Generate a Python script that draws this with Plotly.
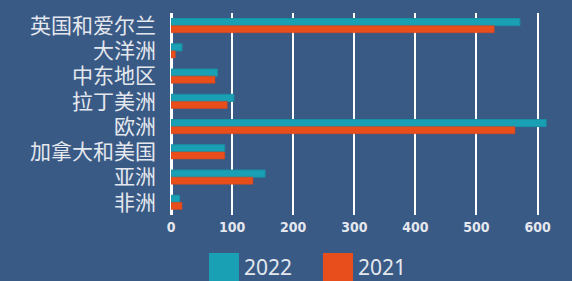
import plotly.graph_objects as go

categories = ["英国和爱尔兰", "大洋洲", "中东地区", "拉丁美洲", "欧洲", "加拿大和美国", "亚洲", "非洲"]
values_2022 = [571, 18, 76, 103, 614, 88, 154, 14]
values_2021 = [529, 7, 72, 92, 563, 88, 134, 18]
series_names = ["2022", "2021"]
x_ticks = [0, 100, 200, 300, 400, 500, 600]

BG = "#3a5a86"
TEAL = "#1aa0b4"
ORANGE = "#e84e1c"
TXT = "#e4e8ee"

fig = go.Figure()
fig.add_trace(go.Bar(y=categories, x=values_2022, orientation="h", name=series_names[0],
                     marker=dict(color=TEAL, line=dict(color="#1890a4", width=1))))
fig.add_trace(go.Bar(y=categories, x=values_2021, orientation="h", name=series_names[1],
                     marker=dict(color=ORANGE, line=dict(color="#d8461a", width=0.5))))

fig.update_layout(
    width=572, height=281,
    paper_bgcolor=BG, plot_bgcolor=BG,
    margin=dict(l=171, r=10, t=13, b=66),
    barmode="group", bargap=0.44, bargroupgap=0,
    showlegend=False,
    xaxis=dict(range=[0, 640], tickvals=x_ticks, showgrid=True, gridcolor="#ffffff", gridwidth=2,
               zeroline=True, zerolinecolor="#ffffff", zerolinewidth=3, showline=False,
               tickfont=dict(family="DejaVu Sans Condensed", size=14, color=TXT, weight="bold"),
               ticklabelstandoff=2, fixedrange=True),
    yaxis=dict(autorange="reversed", showgrid=False, zeroline=False, showline=False,
               tickfont=dict(family="Noto Sans CJK SC", size=21, color=TXT),
               ticklabelstandoff=14, fixedrange=True),
)

# Legend drawn manually (large squares)
legend_items = [(series_names[0], TEAL, 209), (series_names[1], ORANGE, 323)]
for name, col, x0 in legend_items:
    fig.add_shape(type="rect", xref="paper", yref="paper",
                  x0=(x0 - 171) / 391, x1=(x0 + 30 - 171) / 391,
                  y0=(215 - 290) / 202, y1=(215 - 253) / 202,
                  fillcolor=col, line=dict(width=0), layer="above")
    fig.add_annotation(text=name, xref="paper", yref="paper", showarrow=False,
                       x=(x0 + 33 - 171) / 391, y=(215 - 267) / 202, xanchor="left", yanchor="middle",
                       font=dict(family="Noto Sans", size=21, color=TXT))

fig.write_html("out.html", config={"displayModeBar": False, "staticPlot": True},
               post_script="document.body.style.margin='0';document.body.style.background='%s';" % BG)
